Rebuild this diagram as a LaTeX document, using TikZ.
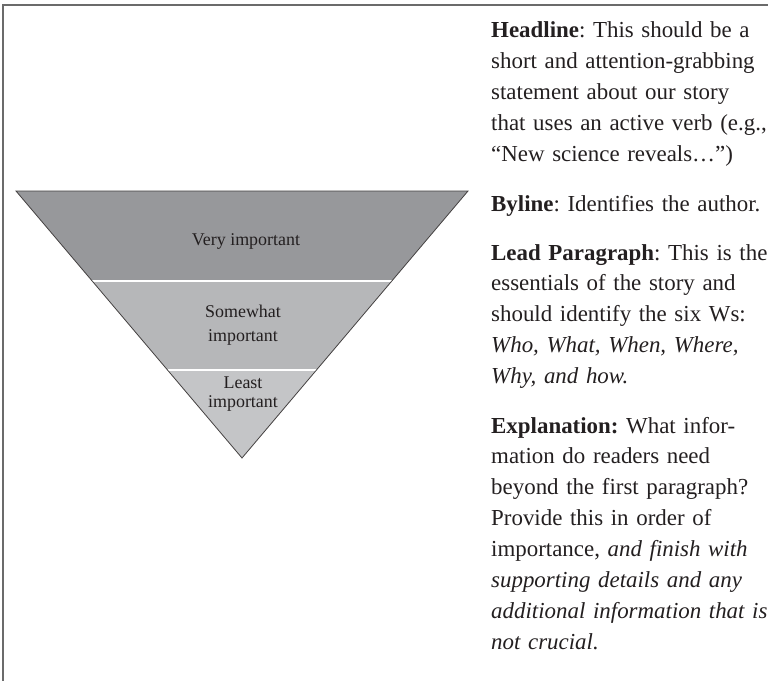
\documentclass[tikz,border=0pt]{standalone}
\usepackage{fontspec}
\setmainfont{Liberation Serif}
\usetikzlibrary{positioning}
\definecolor{bandtop}{HTML}{97989B}
\definecolor{bandmid}{HTML}{B6B7B9}
\definecolor{bandlow}{HTML}{C4C5C7}
\definecolor{ink}{HTML}{231F20}
\definecolor{rulegray}{HTML}{6B6B6B}
\tikzset{divide/.style = {draw = white, line width = 1.5bp},
         edge/.style = {draw = ink!85, line width = 0.8bp, line join = miter},
         lbl/.style = {inner sep = 0, align = center, text = ink, font = \fontsize{18}{24}\selectfont},
         para/.style = {inner sep = 0, anchor = base west, text width = 310bp, align = left, text = ink, font = \fontsize{23}{31}\selectfont\frenchspacing}}

\begin{document}
\begin{tikzpicture}[x = 1bp, y = -1bp]
    \useasboundingbox (0, 0) rectangle (768, 681);

    % box edge
    \draw [rulegray, line width = 2bp] (3, 681) -- (3, 5) -- (768, 5);

    % inverted pyramid
    \coordinate (tl) at (16, 191);
    \coordinate (tr) at (468, 191);
    \coordinate (ap) at (242, 458);
    \coordinate (ml) at (92.2, 281);
    \coordinate (mr) at (391.8, 281);
    \coordinate (ll) at (167.5, 370);
    \coordinate (lr) at (316.5, 370);

    \fill [bandtop] (tl) -- (tr) -- (mr) -- (ml) -- cycle;
    \fill [bandmid] (ml) -- (mr) -- (lr) -- (ll) -- cycle;
    \fill [bandlow] (ll) -- (lr) -- (ap) -- cycle;
    \draw [divide] (ml) -- (mr);
    \draw [divide] (ll) -- (lr);
    \draw [edge] (tl) -- (tr) -- (ap) -- cycle;

    \node [lbl, anchor = base] (vi) at (246, 245) {Very important};
    \node [lbl] (si) at (243, 325) {Somewhat\\important};
    \node [lbl] (li) at (243, 394) {Least\\[-4pt]important};

    % text column
    \node [para] (head) at (491, 38) {\textbf{Headline}: This should be a\\
        short and attention-grabbing\\
        statement about our story\\
        that uses an active verb (e.g.,\\
        “New science reveals…”)};
    \node [para] (by) at (491, 211) {\textbf{Byline}: Identifies the author.};
    \node [para] (lead) at (491, 260) {\textbf{Lead Paragraph}: This is the\\
        essentials of the story and\\
        should identify the six Ws:\\
        \textit{Who, What, When, Where,}\\
        \textit{Why, and how.}};
    \node [para] (expl) at (491, 433) {\textbf{Explanation:} What infor-\\
        mation do readers need\\
        beyond the first paragraph?\\
        Provide this in order of\\
        importance, \textit{and finish with}\\
        \textit{supporting details and any}\\
        \textit{additional information that is}\\
        \textit{not crucial.}};
\end{tikzpicture}
\end{document}
